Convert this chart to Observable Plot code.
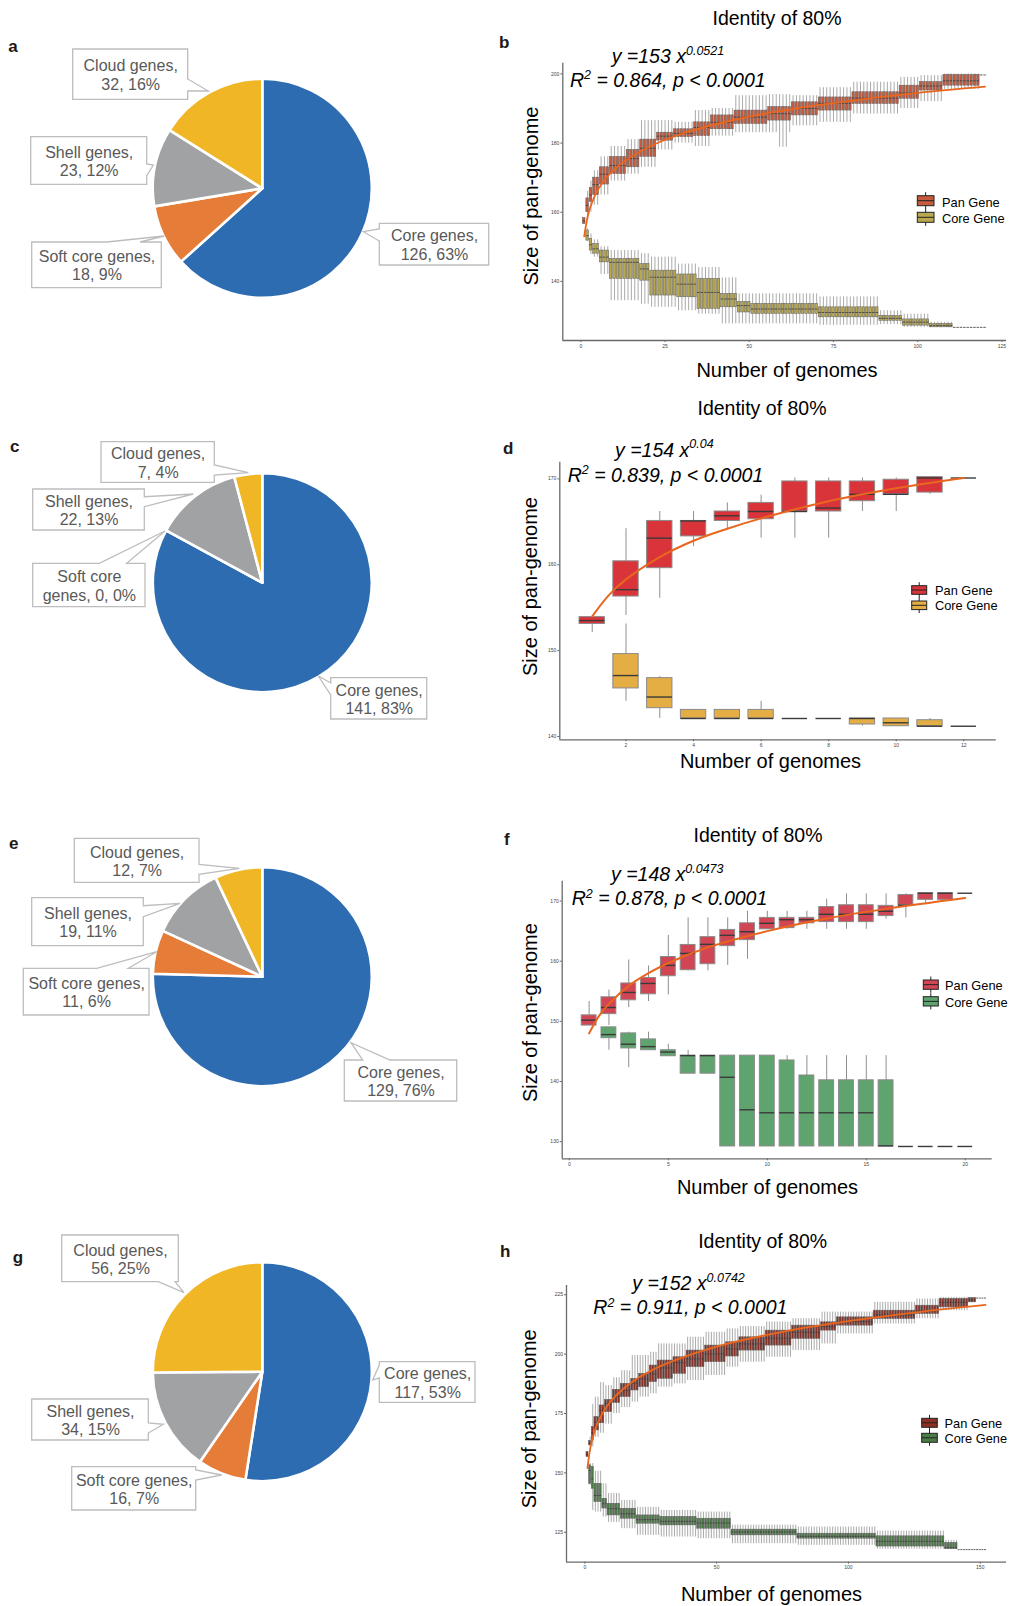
<!DOCTYPE html>
<html><head><meta charset="utf-8">
<script src="https://cdn.jsdelivr.net/npm/d3@7"></script>
<script src="https://cdn.jsdelivr.net/npm/@observablehq/plot@0.6"></script>
<style>
body{margin:0;background:#fff;}
#page{position:relative;width:1009px;height:1606px;overflow:hidden;background:#fff;font-family:"Liberation Sans",Arial,Helvetica,sans-serif;}
.abs{position:absolute;}
</style></head><body><div id="page"></div>
<script>
// ================= DATA =================
const pieCategories = ["Core genes", "Soft core genes", "Shell genes", "Cloud genes"];
const pieA = [126, 18, 23, 32];  const pctA = [63, 9, 12, 16];
const pieC = [141, 0, 22, 7];    const pctC = [83, 0, 13, 4];
const pieE = [129, 11, 19, 12];  const pctE = [76, 6, 11, 7];
const pieG = [117, 16, 34, 56];  const pctG = [53, 7, 15, 25];

const seriesNames = ["Pan Gene", "Core Gene"];
const panelTitle = "Identity of 80%";
const xTitle = "Number of genomes";
const yTitle = "Size of pan-genome";

// panel b : runs [fromGenome, toGenome, low, q1, median, q3, high]
const bPanRuns = [
 [1,1,156.6,156.6,157.5,158.3,158.3],[2,2,158,160,162,164,166],[3,3,160,163,165,167,169],
 [4,5,162,165,168,170,172],[6,8,165,168,171,173,176],[9,13,169,171,173.5,176,179],
 [14,17,171,173,175.5,178,181],[18,22,173,176,178.5,181,186.5],[23,27,178,180.7,182,183,186.5],
 [28,33,180,181.7,182.8,184,186],[34,38,179,182,184.5,186,189.4],[39,45,182,184,186,188,190],
 [46,55,183,185.5,187.5,189.4,193.7],[56,58,183,186.5,188.5,190.4,194],[59,61,178.8,186.5,188.5,190.4,194],
 [62,62,183,186.5,188.5,190.4,194],[63,70,185,188,190,191.8,193.7],[71,80,186,189.4,191.5,193.2,196],
 [81,94,188.4,191.3,193,194.7,197.6],[95,100,190,192.8,194.5,196.6,199],[101,107,192,195.2,196.5,197.6,199.5],
 [108,118,195.5,196.6,198,199.7,200],[119,120,199.7,199.7,199.7,199.7,199.7]
];
const bCoreRuns = [
 [2,2,151.5,151.8,153.2,154.7,155.2],[3,3,147.8,148.9,150.6,152.3,153.7],[4,5,147,148,149.4,150.8,152],
 [6,8,142,145.5,147,148.9,150],[9,17,134.4,140.7,145.5,146.5,148.9],[18,20,133.4,140.2,143.6,145,148],
 [21,28,132.5,135.9,141.2,143.1,147],[29,34,131.5,135.4,139.2,142,145],[35,41,130.5,132,136.8,140.7,144],
 [42,46,127.7,132.5,134.9,136.4,141],[47,50,127.7,131,133,134,136.4],[51,70,127.7,130.6,132,133.5,136.4],
 [71,88,127.3,129.6,131,132.5,135.5],[89,95,127.5,128.6,129.3,130,131.5],[96,103,126.7,127.2,128.2,129,130.5],
 [104,110,126.7,126.7,127.2,127.7,128.2],[111,120,126.7,126.7,126.7,126.7,126.7]
];
const bFitX = [1, 2, 3, 5, 8, 12, 20, 30, 45, 60, 80, 100, 120];
const bFitY = [153, 158.6, 162.0, 166.4, 170.5, 174.1, 178.8, 182.7, 186.6, 189.4, 192.2, 194.5, 196.3];
const bTicksX = [0, 25, 50, 75, 100, 125];
const bTicksY = [140, 160, 180, 200];
const bEq = ["153", "0.0521", "0.864"];

// panel d : per genome count
const dPanX   = [1,2,3,4,5,6,7,8,9,10,11,12];
const dPanLo  = [152.1,154.1,156.1,162.1,164.1,163.1,163.1,163.1,166.2,166.2,168.2,170.1];
const dPanQ1  = [153.1,156.3,159.6,163.3,165.1,165.3,166.2,166.2,167.4,168.2,168.4,170.1];
const dPanMed = [153.5,157.1,163.1,165.1,165.7,166.2,166.2,166.6,168.2,168.2,170.1,170.1];
const dPanQ3  = [153.9,160.4,165.1,165.1,166.2,167.2,169.7,169.7,169.7,169.9,170.2,170.1];
const dPanHi  = [153.9,164.2,166.2,166.2,167.2,168.1,170.1,170.1,170.1,170.1,170.2,170.1];
const dCoreX   = [2,3,4,5,6,7,8,9,10,11,12];
const dCoreLo  = [144.1,142.1,142.1,142.1,142.1,142.1,142.1,141.2,141.2,141.2,141.2];
const dCoreQ1  = [145.6,143.3,142.1,142.1,142.1,142.1,142.1,141.4,141.2,141.2,141.2];
const dCoreMed = [147.1,144.6,142.1,142.1,142.1,142.1,142.1,142.1,141.6,141.2,141.2];
const dCoreQ3  = [149.6,146.8,143.1,143.1,143.1,142.1,142.1,142.1,142.1,141.9,141.2];
const dCoreHi  = [153.1,147.0,143.1,143.1,144.1,142.1,142.1,142.1,142.1,142.1,141.2];
const dFitX = [1, 1.5, 2, 3, 4, 5, 6, 8, 10, 12];
const dFitY = [154, 156.5, 158.3, 160.9, 162.8, 164.2, 165.4, 167.4, 168.9, 170.1];
const dTicksX = [2, 4, 6, 8, 10, 12];
const dTicksY = [140, 150, 160, 170];
const dEq = ["154", "0.04", "0.839"];

// panel f
const fPanX   = [1,2,3,4,5,6,7,8,9,10,11,12,13,14,15,16,17,18,19,20];
const fPanLo  = [149.3,149.3,152.3,153.3,154.4,158.4,158.4,159.3,160.3,165.3,165.3,165.3,165.3,165.3,165.3,167.0,167.2,169.4,170.2,171.3];
const fPanQ1  = [149.3,151.2,153.5,154.5,157.5,158.5,159.5,162.5,163.5,165.3,165.5,166.3,166.5,166.5,166.5,167.5,169.3,170.2,170.2,171.3];
const fPanMed = [150.2,152.3,154.8,156.3,159.3,161.3,162.8,164.3,164.9,166.3,166.9,166.9,167.8,167.8,167.8,168.3,169.3,171.3,171.3,171.3];
const fPanQ3  = [151.0,154.0,156.3,157.2,160.7,162.7,164.0,165.2,166.3,167.2,167.2,167.2,169.0,169.3,169.3,169.2,171.0,171.3,171.3,171.3];
const fPanHi  = [153.3,155.2,160.2,159.2,164.3,167.2,167.2,167.2,168.3,168.3,168.3,168.3,170.3,171.2,171.2,171.2,171.2,171.3,171.3,171.3];
const fCoreX   = [2,3,4,5,6,7,8,9,10,11,12,13,14,15,16,17,18,19,20];
const fCoreLo  = [145.2,142.3,145.2,144.2,141.3,141.3,129.2,129.2,129.2,129.2,129.2,129.2,129.2,129.2,129.2,129.2,129.2,129.2,129.2];
const fCoreQ1  = [147.2,145.5,145.2,144.2,141.3,141.3,129.2,129.2,129.2,129.2,129.2,129.2,129.2,129.2,129.2,129.2,129.2,129.2,129.2];
const fCoreMed = [147.8,146.2,145.8,144.9,144.3,144.3,140.7,135.3,134.8,134.8,134.8,134.8,134.8,134.8,129.3,129.2,129.2,129.2,129.2];
const fCoreQ3  = [149.0,148.0,147.0,145.2,144.3,144.3,144.3,144.3,144.3,143.5,141.0,140.2,140.2,140.2,140.2,129.2,129.2,129.2,129.2];
const fCoreHi  = [149.0,148.2,148.2,146.2,145.2,144.3,144.3,144.3,144.3,144.3,144.3,144.3,144.3,144.3,144.3,129.2,129.2,129.2,129.2];
const fFitX = [1, 1.5, 2, 3, 4, 5, 7, 10, 13, 16, 20];
const fFitY = [148, 150.9, 152.9, 155.9, 158.0, 159.7, 162.3, 165.0, 167.1, 168.7, 170.5];
const fTicksX = [0, 5, 10, 15, 20];
const fTicksY = [130, 140, 150, 160, 170];
const fEq = ["148", "0.0473", "0.878"];

// panel h : runs [fromGenome, toGenome, low, q1, median, q3, high]
const hPanRuns = [
 [1,1,156.7,156.7,157.8,158.8,158.8],[2,2,160.9,161.6,162.5,163.4,165],[3,3,160.9,163.7,167,169.3,178.8],
 [4,5,165,167.9,171.4,173.5,181.9],[6,7,166.7,170.9,176.3,178.4,188],[8,10,170.5,175.6,179.1,180.7,186.7],
 [11,13,175,179.4,182.1,185,190],[14,17,177.5,181.9,184.7,187.5,193],[18,20,179.8,184.7,187.7,189.6,199.4],
 [21,24,181.9,186.1,189.6,191.7,199.4],[25,27,183.3,188.2,191.7,195.2,200.8],[28,33,186.1,189.6,194.2,197.3,204.3],
 [34,38,187.5,191.7,196.4,198.7,204.3],[39,45,188.9,194.5,198,201.5,207.1],[46,53,191,196.6,200.1,203.6,209.2],
 [54,58,194.5,199,202.2,205,210.6],[59,68,196.6,201.5,204.3,207.1,211.6],[69,78,198.7,203.6,206.7,209.9,213.5],
 [79,89,201.5,206.4,209.2,212,214.9],[90,95,204.3,209.9,211.6,213.4,217.7],[96,109,208.5,212,213.7,215.5,217.7],
 [110,125,212.7,214.8,216.5,218.3,221.8],[126,134,214.9,216.9,218.3,220.4,223.2],[135,145,218.3,219.7,221.8,223.2,223.9],
 [146,148,221.8,221.8,222.8,223.6,223.6],[149,152,223.6,223.6,223.6,223.6,223.6]
];
const hCoreRuns = [
 [2,2,144.7,145.4,151,153.2,153.9],[3,3,134.2,143.3,147.5,152.5,153.9],[4,6,133.5,137.7,140.5,145.4,150.7],
 [7,8,131.4,135,137,139.1,145.4],[9,13,129.2,132.1,134.9,137,141.3],[14,19,126.5,130.7,132.8,134.9,138.4],
 [20,28,123.7,128.6,130.3,132.1,135.5],[29,42,123,127.9,129.6,131.4,134.2],[43,55,122.3,126.5,128.9,130.7,133.5],
 [56,80,120.2,123.7,125.1,126.1,128],[81,110,119.5,122.3,123.3,124.4,127.2],[111,136,117.9,119,121.2,123.3,125.5],
 [137,141,117.7,117.9,118.5,120.5,121.6],[142,152,117.7,117.7,117.7,117.7,117.7]
];
const hFitX = [1, 2, 3, 5, 8, 12, 20, 30, 50, 75, 100, 125, 152];
const hFitY = [152, 160.0, 164.9, 171.3, 177.4, 182.8, 189.8, 195.6, 203.2, 209.4, 213.9, 217.5, 220.7];
const hTicksX = [0, 50, 100, 150];
const hTicksY = [125, 150, 175, 200, 225];
const hEq = ["152", "0.0742", "0.911"];

// ================= STYLE / LAYOUT =================
const FONT = '"Liberation Sans", Arial, Helvetica, sans-serif';
const pieColors = ["#2e6cb1", "#e57c38", "#a0a2a3", "#f1b626"];
const fitColor = "#e8661e";
const page = document.getElementById("page");

function runsToRecords(runs) {
  const out = [];
  for (const [a, b, lo, q1, med, q3, hi] of runs)
    for (let x = a; x <= b; x++) out.push({x, lo, q1, med, q3, hi});
  return out;
}
function zipRecords(x, lo, q1, med, q3, hi) {
  return x.map((v, i) => ({x: v, lo: lo[i], q1: q1[i], med: med[i], q3: q3[i], hi: hi[i]}));
}
function zipFit(x, y) { return x.map((v, i) => ({x: v, y: y[i]})); }

function place(node, left, top, w, h) {
  const div = document.createElement("div");
  div.className = "abs";
  div.style.left = left + "px"; div.style.top = top + "px";
  div.style.width = w + "px"; div.style.height = h + "px";
  div.appendChild(node);
  page.appendChild(div);
}

// ---------- pies ----------
const pieLayouts = [
  {values: pieA, pct: pctA, top: 30, h: 280, cx: 262.3, cy: 188.3, r: 109.5, callouts: [
    {box: [379.3, 223.3, 488.7, 265], side: "l", base: [229, 241], tip: [363.3, 231.7]},
    {box: [31.7, 242, 161.3, 287.7], side: "t", base: [106.7, 140], tip: [164.3, 236]},
    {box: [30.7, 136.7, 146.7, 184.3], side: "r", base: [164, 176], tip: [153.3, 165]},
    {box: [72.7, 49, 187.7, 99.3], side: "r", base: [79, 91], tip: [208.3, 91]}]},
  {values: pieC, pct: pctC, top: 420, h: 310, cx: 262.3, cy: 582.7, r: 109.5, callouts: [
    {box: [330.7, 677.7, 426.7, 719], side: "l", base: [683, 695], tip: [318.3, 676]},
    {box: [32.7, 563.3, 145, 606.7], side: "t", base: [99.3, 126.7], tip: [165, 531], breakAfter: "Soft core"},
    {box: [32.7, 489, 144.3, 530], side: "r", base: [496.7, 506.7], tip: [193.3, 494]},
    {box: [101, 441.7, 214.3, 482.3], side: "r", base: [465, 475], tip: [248.3, 472.7]}]},
  {values: pieE, pct: pctE, top: 820, h: 300, cx: 262.3, cy: 976.7, r: 109.5, callouts: [
    {box: [344.3, 1060, 456.7, 1101], side: "t", base: [362.7, 390], tip: [351, 1042.7]},
    {box: [23.3, 968.3, 149, 1015], side: "t", base: [96.7, 128.3], tip: [156.7, 951.7]},
    {box: [31.7, 897.7, 143.3, 945.7], side: "r", base: [905.7, 916.7], tip: [180, 903.3]},
    {box: [74.3, 838.3, 199, 882.3], side: "r", base: [864.3, 874.3], tip: [239.3, 868.3]}]},
  {values: pieG, pct: pctG, top: 1220, h: 300, cx: 262.3, cy: 1371.7, r: 109.5, callouts: [
    {box: [379.3, 1361.7, 475, 1402.3], side: "l", base: [1365, 1378], tip: [372.7, 1380]},
    {box: [71.7, 1466.7, 195.7, 1510], side: "r", base: [1470, 1480], tip: [221.7, 1475]},
    {box: [31.7, 1399, 148.3, 1440], side: "r", base: [1423, 1433], tip: [163.3, 1424.3]},
    {box: [61.7, 1235, 178.3, 1281.7], side: "b", base: [158.3, 175], tip: [184, 1292.7]}]}
];

function calloutPath(c, X, Y) {
  const [x0, y0, x1, y1] = c.box, [a, b] = c.base, [tx, ty] = c.tip;
  const P = (x, y) => `${X(x)},${Y(y)}`;
  if (c.side === "r") return `M${P(x0,y0)}L${P(x1,y0)}L${P(x1,a)}L${P(tx,ty)}L${P(x1,b)}L${P(x1,y1)}L${P(x0,y1)}Z`;
  if (c.side === "l") return `M${P(x0,y0)}L${P(x1,y0)}L${P(x1,y1)}L${P(x0,y1)}L${P(x0,b)}L${P(tx,ty)}L${P(x0,a)}Z`;
  if (c.side === "t") return `M${P(x0,y0)}L${P(a,y0)}L${P(tx,ty)}L${P(b,y0)}L${P(x1,y0)}L${P(x1,y1)}L${P(x0,y1)}Z`;
  return `M${P(x0,y0)}L${P(x1,y0)}L${P(x1,y1)}L${P(b,y1)}L${P(tx,ty)}L${P(a,y1)}L${P(x0,y1)}Z`;
}

function labelText(i, L) {
  const full = `${pieCategories[i]}, ${L.values[i]}, ${L.pct[i]}%`;
  const brk = L.callouts[i].breakAfter || (pieCategories[i] + ",");
  return full.slice(0, brk.length) + "\n" + full.slice(brk.length).trim();
}

for (const L of pieLayouts) {
  const labels = L.values.map((v, i) => {
    const [x0, y0, x1, y1] = L.callouts[i].box;
    return {x: (x0 + x1) / 2, y: (y0 + y1) / 2, text: labelText(i, L)};
  });
  const pieMark = (index, scales) => {
    const X = scales && scales.x ? scales.x : (v => v);
    const Y = scales && scales.y ? scales.y : (v => v - L.top);
    const g = d3.create("svg:g");
    const arcs = d3.pie().sort(null).value(d => d)(L.values);
    const cx = X(L.cx), cy = Y(L.cy), r = X(L.cx + L.r) - X(L.cx);
    const arc = d3.arc().innerRadius(0).outerRadius(r);
    g.append("g").attr("transform", `translate(${cx},${cy})`)
      .selectAll("path").data(arcs).join("path")
      .attr("d", arc).attr("fill", (d, i) => pieColors[i])
      .attr("stroke", "#fff").attr("stroke-width", 2.6).attr("stroke-linejoin", "round");
    g.append("g").selectAll("path").data(L.callouts).join("path")
      .attr("d", c => calloutPath(c, X, Y))
      .attr("fill", "#fff").attr("stroke", "#bdbdbd").attr("stroke-width", 1.3);
    return g.node();
  };
  const chart = Plot.plot({
    width: 500, height: L.h, margin: 0,
    x: {domain: [0, 500], range: [0, 500], axis: null},
    y: {domain: [L.top, L.top + L.h], range: [0, L.h], axis: null},
    style: {background: "transparent", maxWidth: "none", fontFamily: FONT, overflow: "visible"},
    marks: [
      pieMark,
      Plot.text(labels, {x: "x", y: "y", text: "text", fill: "#595959", fontSize: 16, lineHeight: 1.15, textAnchor: "middle", lineAnchor: "middle"})
    ]
  });
  place(chart, 0, L.top, 500, L.h);
}

// ---------- box-plot panels ----------
const panels = [
  {left: 500, top: 40, w: 509, h: 320, mL: 62.3, mR: 3, mT: 22.7, mB: 20,
   xDomain: [-5.36, 126.36], yDomain: [122.9, 203.1], ticksX: bTicksX, ticksY: bTicksY,
   pan: runsToRecords(bPanRuns), core: runsToRecords(bCoreRuns), fit: zipFit(bFitX, bFitY),
   panColor: "#c65a3d", coreColor: "#b9a850", dense: true},
  {left: 500, top: 420, w: 509, h: 330, mL: 59.3, mR: 13.3, mT: 41.7, mB: 10.7,
   xDomain: [0.04, 12.96], yDomain: [139.62, 171.94], ticksX: dTicksX, ticksY: dTicksY,
   pan: zipRecords(dPanX, dPanLo, dPanQ1, dPanMed, dPanQ3, dPanHi),
   core: zipRecords(dCoreX, dCoreLo, dCoreQ1, dCoreMed, dCoreQ3, dCoreHi), fit: zipFit(dFitX, dFitY),
   panColor: "#da343b", coreColor: "#e4ae45", dense: false},
  {left: 500, top: 850, w: 509, h: 320, mL: 61.7, mR: 17.3, mT: 30.7, mB: 11.7,
   xDomain: [-0.36, 21.36], yDomain: [127.15, 173.3], ticksX: fTicksX, ticksY: fTicksY,
   pan: zipRecords(fPanX, fPanLo, fPanQ1, fPanMed, fPanQ3, fPanHi),
   core: zipRecords(fCoreX, fCoreLo, fCoreQ1, fCoreMed, fCoreQ3, fCoreHi), fit: zipFit(fFitX, fFitY),
   panColor: "#d14654", coreColor: "#5fa46e", dense: false},
  {left: 500, top: 1250, w: 509, h: 330, mL: 66, mR: 3, mT: 35, mB: 18.3,
   xDomain: [-6.96, 159.96], yDomain: [112.4, 228.9], ticksX: hTicksX, ticksY: hTicksY,
   pan: runsToRecords(hPanRuns), core: runsToRecords(hCoreRuns), fit: zipFit(hFitX, hFitY),
   panColor: "#8c2e23", coreColor: "#4c7c46", dense: true}
];

for (const p of panels) {
  const hw = 0.375;
  const S = p.dense ? {wh: 0.8, whC: "#949494", box: 0.55, boxC: "#626262", med: 0.8, fit: 1.8}
                    : {wh: 1, whC: "#8f8f8f", box: 1, boxC: "#8a8a8a", med: 1.4, fit: 2};
  const boxes = (data, fill) => Plot.rect(data.filter(d => d.q3 > d.q1), {
    x1: d => d.x - hw, x2: d => d.x + hw, y1: "q1", y2: "q3", fill, stroke: S.boxC, strokeWidth: S.box});
  const whisk = data => Plot.ruleX(data.filter(d => d.hi > d.lo), {x: "x", y1: "lo", y2: "hi", stroke: S.whC, strokeWidth: S.wh});
  const meds = data => Plot.ruleY(data, {y: "med", x1: d => d.x - hw, x2: d => d.x + hw, stroke: "#3a3a3a", strokeWidth: S.med});
  const chart = Plot.plot({
    width: p.w, height: p.h, marginLeft: p.mL, marginRight: p.mR, marginTop: p.mT, marginBottom: p.mB,
    x: {domain: p.xDomain, label: null, axis: null},
    y: {domain: p.yDomain, label: null, axis: null},
    style: {background: "transparent", maxWidth: "none", fontFamily: FONT, fontSize: "5px", overflow: "visible"},
    marks: [
      whisk(p.core), whisk(p.pan),
      boxes(p.core, p.coreColor), boxes(p.pan, p.panColor),
      meds(p.core), meds(p.pan),
      Plot.line(p.fit, {x: "x", y: "y", stroke: fitColor, strokeWidth: S.fit, curve: "catmull-rom"}),
      Plot.axisX({ticks: p.ticksX, tickSize: 2, tickPadding: 1.5, fontSize: 5, stroke: "#666", fill: "#444", label: null, tickFormat: d => String(d)}),
      Plot.axisY({ticks: p.ticksY, tickSize: 2, tickPadding: 1.5, fontSize: 5, stroke: "#666", fill: "#444", label: null, tickFormat: d => String(d)}),
      Plot.ruleX([p.xDomain[0]], {stroke: "#6a6a6a", strokeWidth: 1.3}),
      Plot.ruleY([p.yDomain[0]], {stroke: "#6a6a6a", strokeWidth: 1.3})
    ]
  });
  place(chart, p.left, p.top, p.w, p.h);
}

// ---------- text overlay (letters, titles, axis titles, equations, legends) ----------
const ov = d3.create("svg").attr("width", 1009).attr("height", 1606)
  .attr("style", `position:absolute;left:0;top:0;pointer-events:none;font-family:${FONT};overflow:hidden`);
function txt(x, y, s, opt = {}) {
  const t = ov.append("text").attr("x", x).attr("y", y).text(s)
    .attr("font-size", opt.size || 20).attr("fill", opt.fill || "#000")
    .attr("text-anchor", opt.anchor || "start");
  if (opt.bold) t.attr("font-weight", "bold");
  if (opt.italic) t.attr("font-style", "italic");
  if (opt.rotate) t.attr("transform", `rotate(-90,${x},${y})`);
  return t;
}
const letters = [["a", 8.3, 51.7], ["b", 499, 48], ["c", 10, 451.7], ["d", 503, 454],
                 ["e", 9, 849.3], ["f", 504, 845], ["g", 12.7, 1263.3], ["h", 500, 1257]];
for (const [s, x, y] of letters) txt(x, y, s, {size: 17, bold: true, fill: "#231815"});

const textLayout = [
  {title: [777, 24.5], xl: [787, 377], yl: [538, 196], eq1: [611.7, 63.3], eq2: [570, 86.7], eq: bEq,
   leg: {x0: 917.3, w: 16.7, y0: 195.7, kh: 10, gap: 16.6, tx: 942}},
  {title: [762, 414.7], xl: [770.5, 768], yl: [536.6, 586.5], eq1: [615, 456.7], eq2: [567.7, 481.7], eq: dEq,
   leg: {x0: 911.7, w: 15, y0: 585.7, kh: 8.6, gap: 15.3, tx: 935}},
  {title: [758, 842], xl: [767.5, 1194], yl: [536.6, 1012.6], eq1: [611, 881], eq2: [571.7, 905], eq: fEq,
   leg: {x0: 923.3, w: 15, y0: 980, kh: 9.3, gap: 16.7, tx: 945}},
  {title: [762.7, 1248], xl: [771.5, 1601], yl: [535.6, 1418.8], eq1: [632.3, 1290], eq2: [593.3, 1314], eq: hEq,
   leg: {x0: 921.7, w: 15.6, y0: 1418.3, kh: 9, gap: 15, tx: 944.5}}
];
textLayout.forEach((T, k) => {
  const p = panels[k];
  txt(T.title[0], T.title[1], panelTitle, {size: 19.5, anchor: "middle"});
  txt(T.xl[0], T.xl[1], xTitle, {size: 20, anchor: "middle"});
  txt(T.yl[0], T.yl[1], yTitle, {size: 20, anchor: "middle", rotate: true});
  const e1 = txt(T.eq1[0], T.eq1[1], "", {size: 19.5, italic: true});
  e1.append("tspan").text(`y =${T.eq[0]} x`);
  e1.append("tspan").attr("dy", -8.3).attr("font-size", 12.5).text(T.eq[1]);
  const e2 = txt(T.eq2[0], T.eq2[1], "", {size: 19.5, italic: true});
  e2.append("tspan").text("R");
  e2.append("tspan").attr("dy", -7.5).attr("font-size", 12.5).text("2");
  e2.append("tspan").attr("dy", 7.5).text(` = ${T.eq[2]}, p < 0.0001`);
  // legend
  const Lg = T.leg;
  [p.panColor, p.coreColor].forEach((col, j) => {
    const y0 = Lg.y0 + j * Lg.gap, cxk = Lg.x0 + Lg.w / 2;
    ov.append("line").attr("x1", cxk).attr("x2", cxk).attr("y1", y0 - 3.5).attr("y2", y0 + Lg.kh + 3.5)
      .attr("stroke", "#222").attr("stroke-width", 1);
    ov.append("rect").attr("x", Lg.x0).attr("y", y0).attr("width", Lg.w).attr("height", Lg.kh)
      .attr("fill", col).attr("stroke", "#222").attr("stroke-width", 1);
    ov.append("line").attr("x1", Lg.x0).attr("x2", Lg.x0 + Lg.w).attr("y1", y0 + Lg.kh / 2).attr("y2", y0 + Lg.kh / 2)
      .attr("stroke", "#222").attr("stroke-width", 1);
    txt(Lg.tx, y0 + Lg.kh + 0.8, seriesNames[j], {size: 12.8});
  });
});
page.appendChild(ov.node());
</script></body></html>
